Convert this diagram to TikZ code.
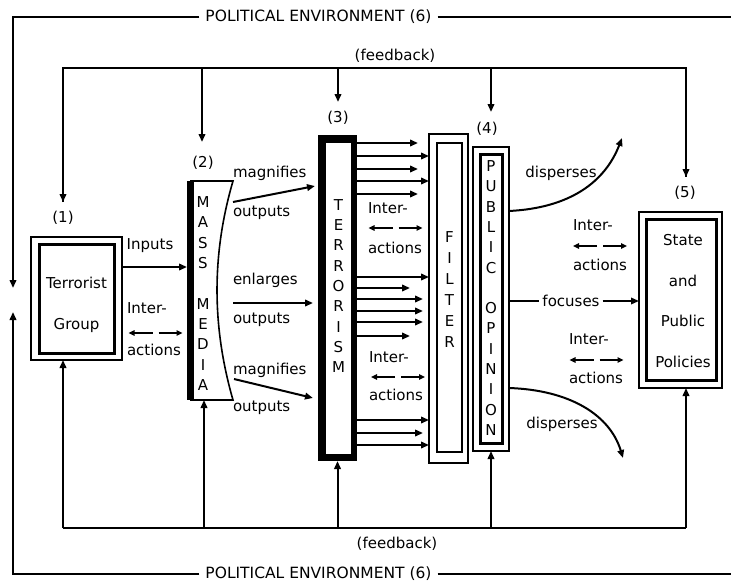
\documentclass[tikz,border=0pt]{standalone}
\usepackage{fontspec}
\setmainfont{DejaVu Sans}
\usetikzlibrary{arrows.meta}
\tikzset{
  ln/.style={line width=2pt},
  lnt/.style={line width=1.7pt},
  tip/.style={-{Triangle[length=8pt,width=6.5pt]}},
  stip/.style={-{Triangle[length=6pt,width=5.5pt]}},
  lbl/.style={font=\fontsize{15}{18}\selectfont},
  ttl/.style={font=\fontsize{15.5}{18}\selectfont, inner xsep=6pt},
  colt/.style={align=center,font=\fontsize{15}{20.3}\selectfont},
  dbl/.pic={
    \draw[lnt,stip] (-3,0) -- (-27,0);
    \draw[lnt,stip] (3,0) -- (27,0);
  },
}
\begin{document}
\begin{tikzpicture}[x=1pt,y=-1pt,every node/.append style={inner sep=0pt,outer sep=0pt}]
\useasboundingbox (0,0) rectangle (731,584);

% ---------- political environment frame ----------
\node[ttl] (pet) at (318.5,17) {POLITICAL ENVIRONMENT (6)};
\node[ttl] (peb) at (318.5,574) {POLITICAL ENVIRONMENT (6)};
\coordinate (ptl) at (13,17);
\coordinate (ptr) at (731,17);
\coordinate (pbl) at (13,574);
\coordinate (pbr) at (731,574);
\coordinate (pdn) at (13,288);
\coordinate (pup) at (13,312);
\draw[ln,tip] (pet.west) -- (ptl) -- (pdn);
\draw[ln] (pet.east) -- (ptr);
\draw[ln,tip] (peb.west) -- (pbl) -- (pup);
\draw[ln] (peb.east) -- (pbr);

% ---------- boxes ----------
% (1) Terrorist group
\node[draw, line width=1.8pt, minimum width=91pt, minimum height=123pt] (tgout) at (76.5,298.5) {};
\node[draw, line width=3pt, minimum width=75pt, minimum height=109pt] (tgin) at (76.5,298.5) {};
\node[align=center, font=\fontsize{15}{41}\selectfont] (tgtext) at (76.5,305) {Terrorist\\Group};
\node[lbl] (n1) at (63,218) {(1)};

% (2) Mass media
\node[minimum width=34pt, minimum height=219pt] (mm) at (204,290.5) {};
\fill (187,181) rectangle (193.5,400);
\draw[line width=1.6pt] (190,181) -- (233,181) .. controls (211.7,254) and (211.7,326) .. (233,400) -- (190,400);
\node[colt] (mmtext) at (203,293.5) {M\\A\\S\\S\\~\\M\\E\\D\\I\\A};
\node[lbl] (n2) at (203,163) {(2)};

% (3) Terrorism
\node[fill=black, minimum width=39pt, minimum height=326pt] (terr) at (337.5,298) {};
\node[fill=white, minimum width=25pt, minimum height=311pt] (terrin) at (338.5,298.5) {};
\node[colt] (terrtext) at (338.5,286) {T\\E\\R\\R\\O\\R\\I\\S\\M};
\node[lbl] (n3) at (338,118) {(3)};

% Filter
\node[draw, line width=1.8pt, minimum width=39pt, minimum height=329pt] (filt) at (448.5,298.5) {};
\node[draw, line width=2.2pt, minimum width=25pt, minimum height=309pt] (filtin) at (449.5,297.5) {};
\node[align=center, font=\fontsize{15}{21}\selectfont] (filttext) at (449.5,289.5) {F\\I\\L\\T\\E\\R};

% (4) Public opinion
\node[draw, line width=1.8pt, minimum width=36pt, minimum height=304pt] (po) at (491,299) {};
\node[draw, line width=3pt, minimum width=22pt, minimum height=289pt] (poin) at (491,298.5) {};
\node[colt] (potext) at (491,298) {P\\U\\B\\L\\I\\C\\~\\O\\P\\I\\N\\I\\O\\N};
\node[lbl] (n4) at (487,129) {(4)};

% (5) State
\node[draw, line width=1.8pt, minimum width=83pt, minimum height=176pt] (st) at (680.5,300) {};
\node[draw, line width=3pt, minimum width=70pt, minimum height=161pt] (stin) at (681,299.5) {};
\node[align=center, font=\fontsize{15}{40.7}\selectfont] (sttext) at (683,301) {State\\and\\Public\\Policies};
\node[lbl] (n5) at (685,193) {(5)};

% ---------- top feedback ----------
\node[lbl] (fbt) at (395,56) {(feedback)};
\coordinate (ftl) at (63,68);
\coordinate (ftr) at (686,68);
\coordinate (a1) at (63,202);
\coordinate (a2) at (202,142);
\coordinate (a3) at (338,102);
\coordinate (a4) at (491,112);
\coordinate (a5) at (686,177);
\draw[ln] (a1) -- (ftl) -- (ftr) -- (a5);
\draw[ln,tip] (ftl) -- (a1);
\draw[ln,tip] (ftr) -- (a5);
\draw[ln,tip] (a2 |- ftl) -- (a2);
\draw[ln,tip] (a3 |- ftl) -- (a3);
\draw[ln,tip] (a4 |- ftl) -- (a4);

% ---------- bottom feedback ----------
\node[lbl] (fbb) at (397,544) {(feedback)};
\coordinate (fbl) at (63,528);
\coordinate (fbr) at (686,528);
\draw[ln] (fbl) -- (fbr);
\draw[ln,tip] (fbl) -- (fbl |- tgout.south);
\draw[ln,tip] (mm.south |- fbl) -- (mm.south);
\draw[ln,tip] (terr.south |- fbl) -- (terr.south);
\draw[ln,tip] (po.south |- fbl) -- (po.south);
\draw[ln,tip] (fbr) -- (fbr |- st.south);

% ---------- terrorist group -> mass media ----------
\coordinate (yin) at (0,267);
\draw[ln,tip] (tgout.east |- yin) -- (mm.west |- yin);
\node[lbl] (inputs) at (150,246) {Inputs};
\node[lbl,anchor=west] (it1) at (127,308) {Inter-};
\pic at (155.5,333) {dbl};
\node[lbl,anchor=west] (ac1) at (127,350) {actions};

% ---------- mass media -> terrorism ----------
\coordinate (m1s) at (233,202);
\coordinate (m1e) at (315,186);
\coordinate (m2s) at (233,303);
\coordinate (m2e) at (313,303);
\coordinate (m3s) at (234,379);
\coordinate (m3e) at (313,398);
\draw[ln,tip] (m1s) -- (m1e);
\draw[ln,tip] (m2s) -- (m2e);
\draw[ln,tip] (m3s) -- (m3e);
\node[lbl,anchor=west] (mag1) at (233,173) {magnifies};
\node[lbl,anchor=west] (out1) at (233,213) {outputs};
\node[lbl,anchor=west] (enl) at (233,280) {enlarges};
\node[lbl,anchor=west] (out2) at (233,320) {outputs};
\node[lbl,anchor=west] (mag2) at (233,370) {magnifies};
\node[lbl,anchor=west] (out3) at (233,408) {outputs};

% ---------- terrorism -> filter ----------
\foreach \y/\e in {143/418,169/418,194/418,288/410,299/423,311/423,322/423,336/410,433/423}
  \draw[ln,tip] (terr.east |- 0,\y) -- (\e,\y);
\foreach \y in {156,181,277,420,445}
  \draw[ln,tip] (terr.east |- 0,\y) -- (filt.west |- 0,\y);
\node[lbl,anchor=west] (it2) at (368,208) {Inter-};
\pic at (395.5,228) {dbl};
\node[lbl,anchor=west] (ac2) at (368,248) {actions};
\node[lbl,anchor=west] (it3) at (369,357) {Inter-};
\pic at (398,377) {dbl};
\node[lbl,anchor=west] (ac3) at (369,395) {actions};

% ---------- public opinion -> state ----------
\coordinate (d1e) at (622,138);
\coordinate (d2e) at (623,458);
\draw[ln,tip] (po.east |- 0,211) .. controls (570,208) and (605,182) .. (d1e);
\draw[ln,tip] (po.east |- 0,388) .. controls (570,390) and (610,415) .. (d2e);
\node[lbl] (dis1) at (561,173) {disperses};
\node[lbl] (dis2) at (562,424) {disperses};
\node[lbl] (foc) at (571,301) {focuses};
\draw[lnt] (po.east |- foc) -- ([xshift=-3pt]foc.west);
\draw[lnt,tip] ([xshift=3pt]foc.east) -- (st.west |- foc);
\node[lbl,anchor=west] (it4) at (573,225) {Inter-};
\pic at (600,246) {dbl};
\node[lbl,anchor=west] (ac4) at (573,265) {actions};
\node[lbl,anchor=west] (it5) at (569,339) {Inter-};
\pic at (596.5,360) {dbl};
\node[lbl,anchor=west] (ac5) at (569,378) {actions};
\end{tikzpicture}
\end{document}
